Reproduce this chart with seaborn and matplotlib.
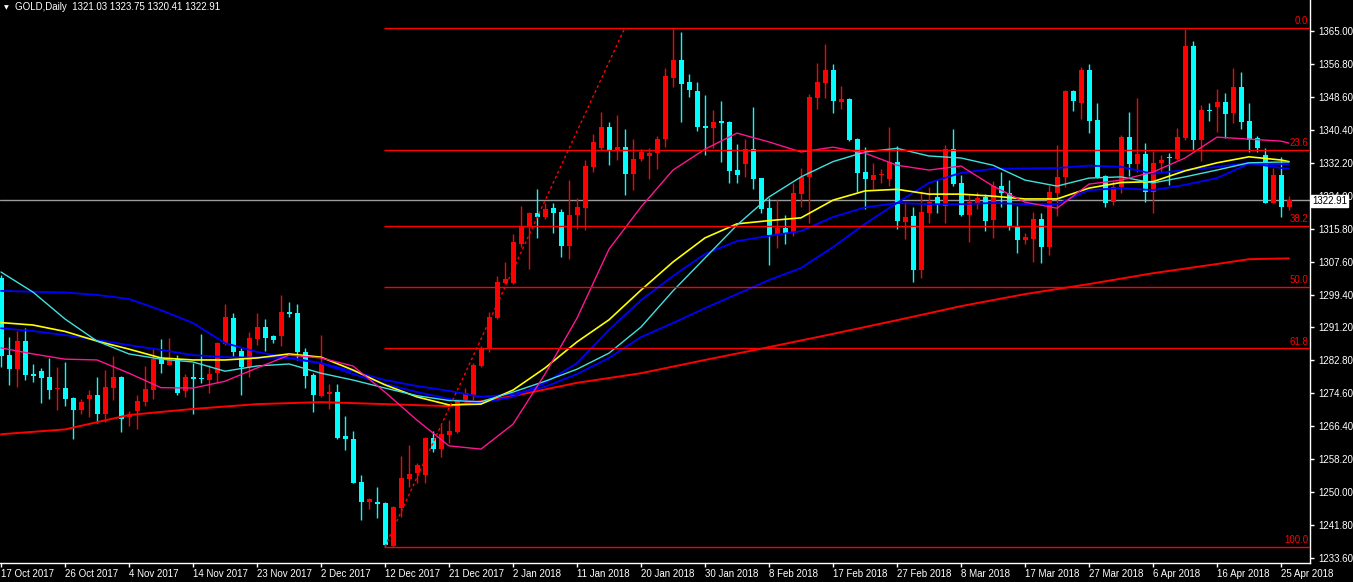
import matplotlib
matplotlib.use("Agg")
import matplotlib.pyplot as plt
import seaborn as sns

# GOLD daily candles (bar 0 = 17 Oct 2017)
opens = [
    1303.4, 1284.2, 1280.7, 1287.7, 1279.5, 1280.3, 1278.8, 1275.7, 1276.1, 1273.6,
    1270.5, 1273.3, 1274.3, 1269.6, 1276.1, 1278.8, 1268.8, 1270.3, 1272.6, 1275.5,
    1283.2, 1281.8, 1283.2, 1275.3, 1278.8, 1278.6, 1278.0, 1279.8, 1287.0, 1293.4,
    1285.2, 1281.3, 1288.2, 1291.2, 1289.0, 1289.0, 1295.0, 1294.7, 1285.0, 1279.2,
    1274.0, 1274.5, 1275.0, 1264.0, 1263.3, 1252.7, 1247.7, 1247.7, 1247.4, 1236.7,
    1246.2, 1253.4, 1254.8, 1254.4, 1263.6, 1260.8, 1264.4, 1265.1, 1272.8, 1274.0,
    1281.5, 1286.0, 1293.4, 1302.2, 1302.2, 1312.0, 1316.4, 1319.5, 1318.7, 1320.8,
    1319.8, 1311.4, 1319.0, 1320.8, 1331.1, 1335.7, 1341.1, 1335.3, 1336.1, 1329.3,
    1333.0, 1333.8, 1334.5, 1338.0, 1353.3, 1357.7, 1352.3, 1350.0, 1341.3, 1340.8,
    1342.4, 1342.3, 1330.3, 1331.8, 1335.5, 1328.2, 1320.8, 1314.1, 1315.8, 1314.7,
    1324.3, 1328.5, 1348.3, 1352.1, 1355.2, 1347.3, 1348.1, 1338.0, 1329.7, 1327.8,
    1329.0, 1328.0, 1332.2, 1317.4, 1318.8, 1305.4, 1319.5, 1323.7, 1321.3, 1335.5,
    1327.0, 1319.1, 1322.2, 1323.7, 1317.9, 1326.4, 1324.5, 1316.2, 1312.9, 1313.1,
    1318.1, 1311.2, 1324.7, 1328.5, 1350.1, 1346.9, 1355.2, 1342.8, 1328.9, 1322.4,
    1326.1, 1338.6, 1331.8, 1334.3, 1324.9, 1332.1, 1333.6, 1333.0, 1338.2, 1361.3,
    1337.8, 1345.1, 1345.9, 1347.3, 1344.4, 1351.1, 1342.5, 1338.2, 1334.0, 1322.2,
    1329.0, 1321.03]
highs = [
    1304.1, 1288.6, 1290.2, 1290.9, 1282.0, 1280.9, 1283.4, 1281.3, 1282.5, 1273.8,
    1273.3, 1275.5, 1278.8, 1280.6, 1283.9, 1279.0, 1270.3, 1274.3, 1281.6, 1285.7,
    1288.2, 1288.5, 1284.2, 1279.5, 1282.2, 1289.5, 1281.7, 1287.5, 1297.0, 1294.8,
    1285.9, 1290.0, 1294.8, 1293.1, 1289.2, 1299.2, 1297.5, 1296.9, 1286.0, 1279.7,
    1289.2, 1277.0, 1277.0, 1269.0, 1265.3, 1254.3, 1248.6, 1251.3, 1247.6, 1246.6,
    1259.2, 1261.8, 1257.4, 1263.8, 1265.3, 1266.8, 1268.0, 1273.0, 1276.1, 1282.2,
    1286.5, 1295.0, 1304.0, 1307.5, 1314.4, 1321.3, 1319.9, 1325.7, 1322.0, 1322.0,
    1320.5, 1327.8, 1323.3, 1332.8, 1339.3, 1344.8, 1342.3, 1344.0, 1340.5, 1338.0,
    1335.5, 1335.9, 1338.8, 1355.8, 1365.8, 1364.7, 1354.2, 1352.3, 1349.0, 1345.3,
    1347.5, 1342.5, 1336.8, 1338.0, 1345.9, 1328.4, 1323.3, 1322.8, 1319.1, 1327.0,
    1330.7, 1349.2, 1356.9, 1361.7, 1356.7, 1351.2, 1348.3, 1338.2, 1336.0, 1332.0,
    1330.6, 1340.9, 1336.4, 1322.4, 1321.0, 1325.2, 1326.0, 1327.8, 1336.5, 1340.5,
    1329.1, 1324.1, 1324.9, 1324.3, 1327.6, 1329.9, 1327.8, 1321.4, 1314.5, 1319.9,
    1319.5, 1326.6, 1336.5, 1350.3, 1350.2, 1356.0, 1356.7, 1346.9, 1329.1, 1327.6,
    1339.0, 1344.8, 1348.2, 1337.0, 1335.0, 1334.0, 1334.6, 1340.8, 1365.4, 1362.5,
    1346.5, 1347.1, 1350.4, 1349.4, 1355.8, 1354.8, 1347.1, 1338.8, 1335.7, 1330.7,
    1333.6, 1323.75]
lows = [
    1281.2, 1276.8, 1276.3, 1278.0, 1277.6, 1272.3, 1273.3, 1270.5, 1271.6, 1263.3,
    1269.6, 1268.7, 1267.2, 1267.5, 1273.0, 1265.1, 1266.6, 1265.8, 1271.6, 1273.2,
    1279.7, 1281.8, 1274.3, 1273.8, 1269.6, 1277.3, 1274.8, 1277.2, 1286.7, 1284.0,
    1274.3, 1278.8, 1286.7, 1285.2, 1287.3, 1286.6, 1293.8, 1283.0, 1276.1, 1270.1,
    1273.8, 1270.7, 1263.3, 1260.6, 1252.3, 1243.1, 1245.8, 1243.6, 1236.7, 1236.5,
    1244.0, 1251.4, 1252.4, 1252.4, 1260.0, 1258.8, 1262.4, 1264.7, 1272.4, 1273.0,
    1281.2, 1285.0, 1293.1, 1302.0, 1302.0, 1311.2, 1305.7, 1313.4, 1318.1, 1314.5,
    1308.7, 1308.1, 1315.5, 1315.3, 1329.9, 1335.3, 1331.5, 1332.8, 1324.1, 1325.3,
    1332.5, 1328.1, 1330.5, 1336.1, 1351.1, 1342.3, 1348.4, 1340.0, 1334.0, 1335.7,
    1332.4, 1327.1, 1327.1, 1328.6, 1325.6, 1319.6, 1306.6, 1311.0, 1311.8, 1313.9,
    1321.2, 1317.2, 1345.4, 1348.3, 1344.6, 1345.4, 1337.5, 1324.8, 1320.6, 1325.6,
    1327.0, 1326.4, 1315.6, 1313.1, 1302.5, 1303.3, 1317.0, 1319.5, 1317.0, 1326.4,
    1318.8, 1312.4, 1320.6, 1315.0, 1313.4, 1321.0, 1315.4, 1309.6, 1311.9, 1307.5,
    1307.1, 1309.1, 1318.9, 1326.1, 1345.1, 1343.0, 1339.6, 1328.2, 1321.0, 1321.6,
    1324.7, 1328.8, 1329.9, 1322.4, 1319.5, 1329.9, 1326.6, 1332.9, 1337.9, 1335.3,
    1332.6, 1342.5, 1339.8, 1338.4, 1342.1, 1340.5, 1334.9, 1334.9, 1322.0, 1322.0,
    1318.5, 1320.41]
closes = [
    1284.0, 1280.7, 1287.8, 1279.3, 1279.0, 1278.6, 1275.5, 1276.1, 1273.3, 1270.5,
    1272.5, 1274.3, 1269.6, 1276.3, 1278.8, 1268.3, 1269.2, 1272.7, 1275.7, 1283.2,
    1282.0, 1283.2, 1274.8, 1278.8, 1278.3, 1278.2, 1279.5, 1287.2, 1293.6, 1285.0,
    1281.3, 1288.5, 1291.2, 1288.5, 1288.0, 1295.0, 1294.5, 1285.0, 1279.1, 1274.3,
    1282.0, 1275.0, 1263.6, 1263.2, 1252.4, 1247.7, 1248.4, 1247.1, 1236.9, 1246.4,
    1253.7, 1254.6, 1256.8, 1263.6, 1260.8, 1264.6, 1265.3, 1272.8, 1274.7, 1281.7,
    1286.1, 1293.6, 1302.3, 1303.2, 1312.4, 1316.3, 1319.5, 1318.7, 1320.5, 1319.7,
    1311.4, 1319.0, 1321.0, 1331.4, 1337.4, 1341.1, 1335.3, 1336.1, 1329.3, 1333.0,
    1334.7, 1334.6, 1338.0, 1353.6, 1357.7, 1351.7, 1350.2, 1340.9, 1340.8, 1342.3,
    1342.1, 1330.1, 1329.1, 1335.5, 1328.1, 1320.6, 1314.1, 1315.8, 1314.6, 1324.5,
    1328.5, 1348.4, 1352.3, 1355.2, 1347.5, 1348.1, 1337.8, 1329.6, 1328.1, 1329.0,
    1329.2, 1332.4, 1317.7, 1318.7, 1305.4, 1319.8, 1322.4, 1321.6, 1335.5, 1326.8,
    1319.1, 1322.3, 1323.3, 1317.6, 1326.4, 1324.5, 1316.4, 1312.9, 1313.7, 1318.1,
    1311.2, 1324.9, 1328.6, 1350.1, 1347.6, 1355.2, 1342.6, 1328.6, 1322.2, 1326.1,
    1338.6, 1331.8, 1334.3, 1324.9, 1332.0, 1332.8, 1333.2, 1338.6, 1361.3, 1337.8,
    1345.3, 1344.9, 1347.3, 1344.3, 1351.1, 1342.3, 1337.8, 1335.7, 1322.2, 1329.0,
    1321.0, 1322.91]

date_labels = ['17 Oct 2017', '26 Oct 2017', '4 Nov 2017', '14 Nov 2017', '23 Nov 2017',
               '2 Dec 2017', '12 Dec 2017', '21 Dec 2017', '2 Jan 2018', '11 Jan 2018',
               '20 Jan 2018', '30 Jan 2018', '8 Feb 2018', '17 Feb 2018', '27 Feb 2018',
               '8 Mar 2018', '17 Mar 2018', '27 Mar 2018', '6 Apr 2018', '16 Apr 2018',
               '25 Apr 2018']
price_labels = ['1233.60', '1241.80', '1250.00', '1258.20', '1266.40', '1274.60', '1282.80',
                '1291.20', '1299.40', '1307.60', '1315.80', '1324.00', '1332.20', '1340.40',
                '1348.60', '1356.80', '1365.00']

# moving averages, sampled every 4 bars (+ last bar)
ma_idx = list(range(0, 161, 4)) + [161]
ma_cyan = [1304.9, 1299.9, 1293.2, 1287.7, 1284.5, 1283.2, 1282.5, 1280.2, 1281.5, 1282.0,
           1279.7, 1278.0, 1276.0, 1274.1, 1272.9, 1272.6, 1275.0, 1277.7, 1280.7, 1284.7,
           1291.2, 1300.2, 1308.4, 1316.6, 1323.6, 1328.6, 1332.4, 1334.8, 1335.7, 1333.8,
           1333.3, 1331.5, 1327.8, 1326.3, 1328.3, 1328.6, 1327.1, 1328.6, 1330.3, 1332.1,
           1332.3, 1332.3]
ma_pink = [1286.0, 1284.5, 1283.2, 1283.0, 1279.7, 1276.1, 1276.0, 1277.7, 1281.0, 1284.2,
           1283.5, 1281.5, 1275.0, 1268.0, 1261.6, 1260.8, 1267.0, 1279.5, 1293.4, 1310.6,
           1321.1, 1330.3, 1335.5, 1339.5, 1337.3, 1334.8, 1336.0, 1334.5, 1331.5, 1330.3,
           1331.3, 1326.3, 1322.3, 1320.8, 1326.8, 1327.8, 1329.8, 1333.3, 1338.5, 1338.0,
           1337.5, 1337.0]
ma_yellow = [1292.3, 1291.7, 1290.1, 1287.7, 1285.7, 1283.5, 1283.0, 1283.0, 1283.5, 1284.5,
             1283.7, 1280.5, 1276.8, 1273.8, 1271.8, 1272.0, 1275.5, 1281.0, 1287.5, 1293.0,
             1300.4, 1307.4, 1313.4, 1316.9, 1317.7, 1318.4, 1322.8, 1325.1, 1325.5, 1324.3,
             1324.3, 1323.8, 1323.1, 1323.1, 1325.8, 1327.2, 1327.4, 1330.1, 1332.1, 1333.6,
             1332.8, 1332.4]
ma_blue_slow = [1300.2, 1300.0, 1299.8, 1299.2, 1298.2, 1295.4, 1292.2, 1287.2, 1285.0, 1283.5,
                1282.2, 1280.2, 1278.0, 1276.5, 1275.3, 1273.8, 1274.5, 1276.3, 1279.5, 1283.5,
                1288.7, 1292.2, 1295.9, 1299.4, 1302.9, 1305.9, 1311.1, 1316.9, 1322.1, 1327.1,
                1329.6, 1330.6, 1330.7, 1330.8, 1331.4, 1331.1, 1329.4, 1330.3, 1331.1, 1332.1,
                1330.8, 1330.7]
ma_blue_fast = [1290.9, 1290.2, 1289.2, 1288.0, 1286.7, 1285.5, 1284.2, 1283.7, 1283.6, 1283.5,
                1282.2, 1279.5, 1277.0, 1275.0, 1273.3, 1272.3, 1273.8, 1277.3, 1282.2, 1290.5,
                1297.9, 1303.9, 1309.4, 1312.6, 1313.9, 1315.1, 1318.6, 1321.0, 1322.1, 1321.8,
                1321.8, 1322.1, 1321.8, 1321.8, 1325.3, 1325.8, 1325.3, 1326.6, 1328.3, 1331.9,
                1331.8, 1331.7]
red_idx = list(range(0, 153, 8)) + [156, 161]
ma_red = [1264.5, 1265.7, 1269.3, 1270.8, 1272.0, 1272.5, 1272.0, 1271.5, 1274.0, 1277.3,
          1279.7, 1283.0, 1286.2, 1289.5, 1292.9, 1296.4, 1299.4, 1301.9, 1304.6, 1306.9,
          1308.1, 1308.3]

# fibonacci retracement drawn from the 12 Dec low to the January high
fib_start, fib_end = 48, 78
fib_low, fib_high = 1236.5, 1365.8
fib_names = ['0.0', '23.6', '38.2', '50.0', '61.8', '100.0']
fib_ratios = [0.0, 0.236, 0.382, 0.5, 0.618, 1.0]
last_price = 1322.91

sns.set_style("dark", {"axes.facecolor": "black", "figure.facecolor": "black"})
plt.rcParams['font.family'] = ['Liberation Sans', 'DejaVu Sans']

fig = plt.figure(figsize=(13.53, 5.82), dpi=100, facecolor='black')
ax = fig.add_axes([0, 19 / 582, 1310 / 1353, 563 / 582])
ax.set_facecolor('black')

idx = list(range(len(opens)))
up = [c >= o for o, c in zip(opens, closes)]
cols = ['#FF0000' if u else '#00FFFF' for u in up]
bottoms = [min(o, c) for o, c in zip(opens, closes)]
heights = [max(abs(c - o), 0.3) for o, c in zip(opens, closes)]

ax.axhline(last_price, color='#9A9A9A', lw=1, zorder=1)
ax.vlines(idx, lows, highs, colors=cols, lw=1, zorder=2)
ax.bar(idx, heights, bottom=bottoms, width=0.625, color=cols, linewidth=0, zorder=3)

sns.lineplot(x=red_idx, y=ma_red, color='#FF0000', lw=1.4, ax=ax, zorder=4)
sns.lineplot(x=ma_idx, y=ma_blue_slow, color='#0000FF', lw=1.3, ax=ax, zorder=4)
sns.lineplot(x=ma_idx, y=ma_blue_fast, color='#0000FF', lw=1.3, ax=ax, zorder=4)
sns.lineplot(x=ma_idx, y=ma_yellow, color='#FFFF00', lw=1.2, ax=ax, zorder=4)
sns.lineplot(x=ma_idx, y=ma_cyan, color='#40E0E0', lw=1.0, ax=ax, zorder=4)
sns.lineplot(x=ma_idx, y=ma_pink, color='#FF1493', lw=1.0, ax=ax, zorder=4)

xmin, xmax = -0.125, 163.625
fib_span = fib_high - fib_low
for name, r in zip(fib_names, fib_ratios):
    lvl = fib_high - r * fib_span
    ax.hlines(lvl, fib_start - 0.125, xmax, color='#FF0000', lw=1, zorder=5)
    ax.text(1308 / 1310, lvl + 0.4, name, transform=ax.get_yaxis_transform(),
            ha='right', va='bottom', color='#FF0000', fontsize=7, zorder=6)
ax.plot([fib_start, fib_end], [fib_low, fib_high], color='#FF0000', lw=1,
        linestyle=(0, (2, 2)), zorder=5)

ax.set_xlim(xmin, xmax)
ax.set_ylim(1232.43, 1372.65)

ax.set_xticks(list(range(0, 161, 8)))
ax.set_xticklabels(date_labels, ha='left')
ax.set_yticks([1233.6 + k * 131.4 / 16 for k in range(17)])
ax.set_yticklabels(price_labels)
ax.yaxis.tick_right()
ax.tick_params(axis='both', colors='white', labelcolor='white', labelsize=7,
               length=3, width=1, direction='out')
ax.tick_params(axis='x', pad=1, bottom=True)
ax.tick_params(axis='y', pad=3, right=True, left=False)
ax.set_xlabel('')
ax.set_ylabel('')
ax.grid(False)
for side in ['top', 'left']:
    ax.spines[side].set_visible(False)
for side in ['right', 'bottom']:
    ax.spines[side].set_visible(True)
    ax.spines[side].set_color('white')
    ax.spines[side].set_linewidth(1)

# current price tag on the axis (sits over the 1324.00 label, as in MT4)
ax.text(1.0015, last_price - 0.3, '1322.91', transform=ax.get_yaxis_transform(),
        ha='left', va='center', color='black', fontsize=7, zorder=10, clip_on=False,
        bbox=dict(boxstyle='square,pad=0.12', fc='white', ec='white'))

fig.text(4 / 1353, 1 - 7.5 / 582, '\u25bc', color='white', fontsize=4.5,
         family='DejaVu Sans', va='center', ha='left')
fig.text(15 / 1353, 1 - 7.5 / 582, 'GOLD,Daily  1321.03 1323.75 1320.41 1322.91',
         color='white', fontsize=7, va='center', ha='left')

fig.savefig('out.png', dpi=100, facecolor='black')
